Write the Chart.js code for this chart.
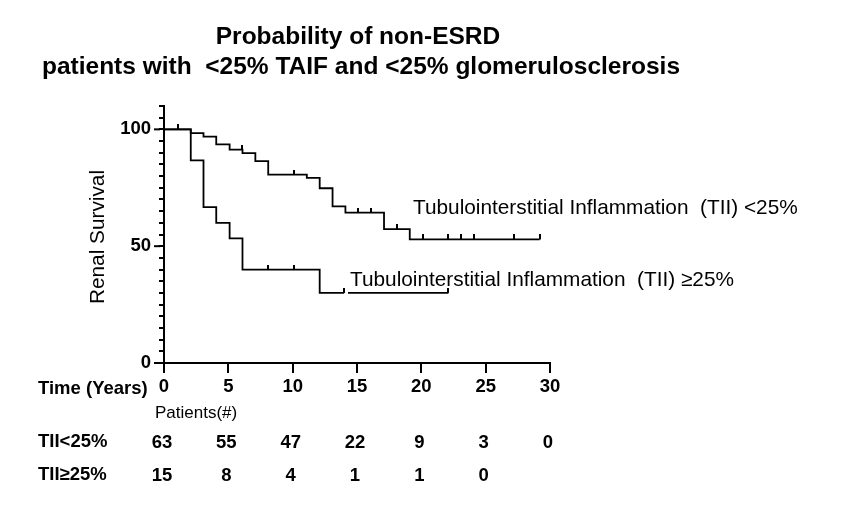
<!DOCTYPE html>
<html>
<head>
<meta charset="utf-8">
<script src="https://cdn.jsdelivr.net/npm/chart.js@4.4.0/dist/chart.umd.min.js"></script>
<style>
  html, body { margin: 0; background: #fff; }
  #wrap { width: 850px; height: 510px; position: relative; }
</style>
</head>
<body>
<div id="wrap"><canvas id="km"></canvas></div>
<script>
// TII < 25% : step curve (time in years, renal survival %)
const lowTimes = [0, 2.08, 3.07, 4.06, 5.1, 6.1, 7.1, 8.1, 11.1, 12.1, 13.1, 14.1, 17.1, 19.1, 29.2];
const lowSurv  = [100, 98.4, 96.9, 93.6, 91.3, 89.8, 86.4, 80.6, 79.2, 74.8, 67.0, 64.4, 57.3, 52.9, 52.9];
const lowCensorTimes = [1.07, 6.1, 10.1, 15.1, 16.1, 18.1, 20.1, 22.1, 23.1, 24.1, 27.2, 29.2];
const lowCensorSurv  = [100, 91.3, 80.6, 64.4, 64.4, 57.3, 52.9, 52.9, 52.9, 52.9, 52.9, 52.9];

// TII >= 25% (the short break after year 14 is in the original)
const highTimes = [0, 2.08, 3.07, 4.06, 5.1, 6.1, 12.1, 14.0, 14.15, 14.3, 22.1];
const highSurv  = [100, 86.7, 66.7, 60.0, 53.3, 40.0, 30.0, 30.0, null, 30.0, 30.0];
const highCensorTimes = [8.1, 10.1, 14.0, 22.1];
const highCensorSurv  = [40.0, 40.0, 30.0, 30.0];

// numbers at risk
const riskTimes = [0, 5, 10, 15, 20, 25, 30];
const riskLow  = [63, 55, 47, 22, 9, 3, 0];
const riskHigh = [15, 8, 4, 1, 1, 0];

const titleLines = ['Probability of non-ESRD', 'patients with  <25% TAIF and <25% glomerulosclerosis'];
const labelLow  = 'Tubulointerstitial Inflammation  (TII) <25%';
const labelHigh = 'Tubulointerstitial Inflammation  (TII) \u226525%';

const FONT = '"Liberation Sans", Arial, sans-serif';

function pts(xs, ys) {
    return xs.map((x, i) => ({ x: x, y: ys[i] }));
}

// censor mark: short vertical tick sitting on top of the line
function makeCensorMark() {
    const c = document.createElement('canvas');
    c.width = 2;
    c.height = 10;
    const g = c.getContext('2d');
    g.fillStyle = '#000';
    g.fillRect(0, 0, 2, 5);
    return c;
}
const censorMark = makeCensorMark();

const textPlugin = {
    id: 'kmText',
    afterDraw(chart) {
        const ctx = chart.ctx;
        const xs = chart.scales.x;
        const ys = chart.scales.y;
        ctx.save();
        ctx.fillStyle = '#000';
        ctx.strokeStyle = '#000';

        // longer major ticks on the y axis
        ctx.lineWidth = 2;
        [0, 50, 100].forEach(v => {
            const y = ys.getPixelForValue(v);
            ctx.beginPath();
            ctx.moveTo(xs.left - 10, y);
            ctx.lineTo(xs.left - 4, y);
            ctx.stroke();
        });

        // title
        ctx.textAlign = 'center';
        ctx.textBaseline = 'middle';
        ctx.font = 'bold 24.5px ' + FONT;
        ctx.fillText(titleLines[0], 358, 37);
        ctx.fillText(titleLines[1], 361, 67);

        // y axis title
        ctx.save();
        ctx.translate(98, 237);
        ctx.rotate(-Math.PI / 2);
        ctx.font = '20.8px ' + FONT;
        ctx.fillText('Renal Survival', 0, 0);
        ctx.restore();

        // curve labels
        ctx.textAlign = 'left';
        ctx.font = '20.8px ' + FONT;
        ctx.fillText(labelLow, 413, 208);
        ctx.fillText(labelHigh, 350, 280);

        // risk table
        ctx.font = 'bold 18.5px ' + FONT;
        ctx.fillText('Time (Years)', 38, 389);
        ctx.fillText('TII<25%', 38, 442);
        ctx.fillText('TII\u226525%', 38, 475);
        ctx.font = '17px ' + FONT;
        ctx.fillText('Patients(#)', 155, 413);

        ctx.textAlign = 'center';
        ctx.font = 'bold 18.5px ' + FONT;
        riskLow.forEach((n, i) => {
            ctx.fillText(String(n), xs.getPixelForValue(riskTimes[i]) - 2, 443);
        });
        riskHigh.forEach((n, i) => {
            ctx.fillText(String(n), xs.getPixelForValue(riskTimes[i]) - 2, 476);
        });
        ctx.restore();
    }
};

new Chart(document.getElementById('km'), {
    type: 'line',
    data: {
        datasets: [
            {
                label: 'TII<25%',
                data: pts(lowTimes, lowSurv),
                stepped: true,
                borderColor: '#000',
                borderWidth: 1.8,
                pointRadius: 0,
                fill: false
            },
            {
                label: 'TII>=25%',
                data: pts(highTimes, highSurv),
                stepped: true,
                spanGaps: false,
                borderColor: '#000',
                borderWidth: 1.8,
                pointRadius: 0,
                fill: false
            },
            {
                label: 'censored <25%',
                data: pts(lowCensorTimes, lowCensorSurv),
                showLine: false,
                pointStyle: censorMark,
                pointRadius: 5
            },
            {
                label: 'censored >=25%',
                data: pts(highCensorTimes, highCensorSurv),
                showLine: false,
                pointStyle: censorMark,
                pointRadius: 5
            }
        ]
    },
    options: {
        responsive: true,
        maintainAspectRatio: false,
        animation: false,
        events: [],
        layout: { padding: { left: 0, right: 300, top: 106, bottom: 0 } },
        plugins: {
            legend: { display: false },
            title: { display: false },
            tooltip: { enabled: false }
        },
        scales: {
            x: {
                type: 'linear',
                min: 0,
                max: 30,
                afterFit: s => { s.height = 147; },
                border: { display: true, color: '#000', width: 2 },
                grid: { drawOnChartArea: false, drawTicks: true, tickLength: 10, color: '#000', lineWidth: 2 },
                ticks: {
                    stepSize: 5,
                    autoSkip: false,
                    color: '#000',
                    padding: 3,
                    maxRotation: 0,
                    font: { family: FONT, size: 18.5, weight: 'bold' }
                }
            },
            y: {
                min: 0,
                max: 110,
                afterFit: s => { s.width = 164; },
                border: { display: true, color: '#000', width: 2 },
                grid: { drawOnChartArea: false, drawTicks: true, tickLength: 5, color: '#000', lineWidth: 2 },
                ticks: {
                    stepSize: 5,
                    autoSkip: false,
                    color: '#000',
                    padding: 8,
                    font: { family: FONT, size: 18.5, weight: 'bold' },
                    callback: v => (v % 50 === 0 ? String(v) : '')
                }
            }
        }
    },
    plugins: [textPlugin]
});
</script>
</body>
</html>
